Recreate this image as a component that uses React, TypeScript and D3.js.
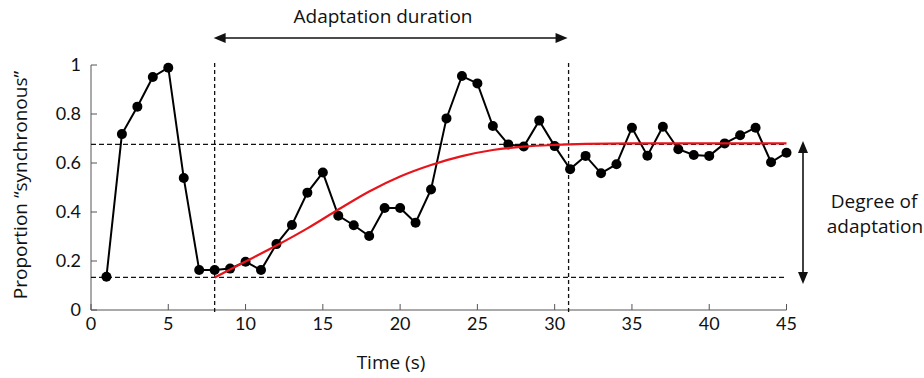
import React from "react";
import * as d3 from "d3";

const times = [1,2,3,4,5,6,7,8,9,10,11,12,13,14,15,16,17,18,19,20,21,22,23,24,25,26,27,28,29,30,31,32,33,34,35,36,37,38,39,40,41,42,43,44,45];
const proportion = [0.136,0.718,0.83,0.951,0.989,0.539,0.163,0.163,0.169,0.197,0.163,0.269,0.347,0.479,0.561,0.385,0.346,0.302,0.416,0.416,0.356,0.492,0.782,0.955,0.925,0.751,0.676,0.667,0.773,0.669,0.575,0.629,0.558,0.595,0.744,0.63,0.748,0.656,0.633,0.629,0.68,0.713,0.744,0.603,0.642];

const fitT = [8,10,12,14,16,18,20,22,24,26,28,30,32,35,45];
const fitV = [0.133,0.198,0.263,0.333,0.41,0.484,0.545,0.592,0.628,0.653,0.667,0.674,0.678,0.68,0.68];

const xTicks = [0,5,10,15,20,25,30,35,40,45];
const yTicks = [0,0.2,0.4,0.6,0.8,1];
const yTickLabels = ["0","0.2","0.4","0.6","0.8","1"];

const baseline = 0.133;
const plateau = 0.676;
const adaptStart = 8;
const adaptEnd = 30.9;

export default function App() {
  const W = 924, H = 378;
  const x = d3.scaleLinear().domain([0, 45]).range([91, 786.5]);
  const y = d3.scaleLinear().domain([0, 1]).range([310, 65]);
  const font = "'Open Sans', Lato, sans-serif";
  const tickFont = "Lato, 'Open Sans', sans-serif";

  const dataLine = d3.line<number>().x((_, i) => x(times[i])).y((d) => y(d));
  const fitLine = d3.line<number>().x((_, i) => x(fitT[i])).y((d) => y(d)).curve(d3.curveMonotoneX);

  const arrowY = 38;
  const ax1 = x(adaptStart) - 1, ax2 = x(adaptEnd) - 1;
  const vx = 803;
  const vy1 = 141, vy2 = 284;

  return (
    <svg width={W} height={H} style={{ position: "absolute", left: 0, top: 0, background: "#fff" }}>
      <rect x={0} y={0} width={W} height={H} fill="#fff" />
      {/* axes */}
      <line x1={x(0)} x2={x(45)} y1={y(0)} y2={y(0)} stroke="#555" strokeWidth={1} />
      <line x1={x(0)} x2={x(0)} y1={y(0)} y2={y(1)} stroke="#555" strokeWidth={1} />
      {xTicks.map((t) => (
        <g key={"xt" + t}>
          <line x1={x(t)} x2={x(t)} y1={y(0)} y2={y(0) - 6} stroke="#555" strokeWidth={1} />
          <text x={x(t)} y={y(0) + 20} textAnchor="middle" fontFamily={tickFont} fontSize={18} fill="#111">{t}</text>
        </g>
      ))}
      {yTicks.map((v, i) => (
        <g key={"yt" + v}>
          <line x1={x(0)} x2={x(0) + 6} y1={y(v)} y2={y(v)} stroke="#555" strokeWidth={1} />
          <text x={x(0) - 10} y={y(v) + 6} textAnchor="end" fontFamily={tickFont} fontSize={18} fill="#111">{yTickLabels[i]}</text>
        </g>
      ))}
      {/* dashed reference lines */}
      <line x1={x(0)} x2={x(45)} y1={y(plateau)} y2={y(plateau)} stroke="#111" strokeWidth={1.3} strokeDasharray="5,3" />
      <line x1={x(0)} x2={x(45)} y1={y(baseline)} y2={y(baseline)} stroke="#111" strokeWidth={1.3} strokeDasharray="5,3" />
      <line x1={x(adaptStart)} x2={x(adaptStart)} y1={63} y2={312} stroke="#111" strokeWidth={1.3} strokeDasharray="4,3" />
      <line x1={x(adaptEnd)} x2={x(adaptEnd)} y1={63} y2={312} stroke="#111" strokeWidth={1.3} strokeDasharray="4,3" />
      {/* data */}
      <path d={dataLine(proportion) || ""} fill="none" stroke="#000" strokeWidth={2} />
      {proportion.map((v, i) => (
        <circle key={"p" + i} cx={x(times[i])} cy={y(v)} r={5} fill="#000" />
      ))}
      {/* fit */}
      <path d={fitLine(fitV) || ""} fill="none" stroke="#e8141b" strokeWidth={2.2} />
      {/* top arrow */}
      <line x1={ax1 + 10} x2={ax2 - 10} y1={arrowY} y2={arrowY} stroke="#111" strokeWidth={1.6} />
      <path d={`M${ax1},${arrowY} L${ax1 + 12},${arrowY - 5} L${ax1 + 12},${arrowY + 5} Z`} fill="#111" />
      <path d={`M${ax2},${arrowY} L${ax2 - 12},${arrowY - 5} L${ax2 - 12},${arrowY + 5} Z`} fill="#111" />
      <text x={383} y={23} textAnchor="middle" fontFamily={font} fontSize={19} fill="#111">Adaptation duration</text>
      {/* right arrow */}
      <line x1={vx} x2={vx} y1={vy1 + 10} y2={vy2 - 10} stroke="#111" strokeWidth={1.6} />
      <path d={`M${vx},${vy1} L${vx - 5},${vy1 + 12} L${vx + 5},${vy1 + 12} Z`} fill="#111" />
      <path d={`M${vx},${vy2} L${vx - 5},${vy2 - 12} L${vx + 5},${vy2 - 12} Z`} fill="#111" />
      <text x={874} y={208} textAnchor="middle" fontFamily={font} fontSize={19} fill="#111">Degree of</text>
      <text x={875} y={233} textAnchor="middle" fontFamily={font} fontSize={19} fill="#111">adaptation</text>
      {/* axis titles */}
      <text x={391} y={369} textAnchor="middle" fontFamily={font} fontSize={19} fill="#111">Time (s)</text>
      <text transform="translate(27,185) rotate(-90)" textAnchor="middle" fontFamily={font} fontSize={19} fill="#111">Proportion “synchronous”</text>
    </svg>
  );
}
